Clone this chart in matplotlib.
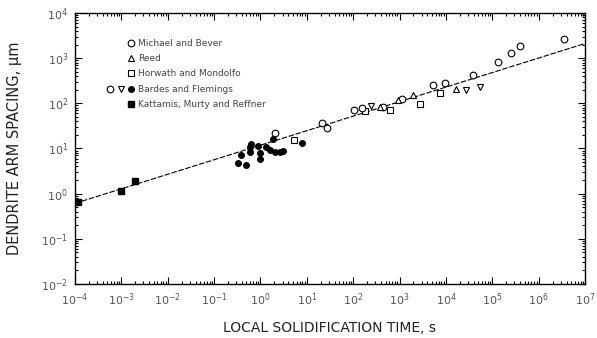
import matplotlib
matplotlib.use("Agg")
import matplotlib.pyplot as plt
from matplotlib.ticker import LogLocator, NullFormatter
from matplotlib.lines import Line2D
from matplotlib.legend_handler import HandlerTuple

# datos (tiempo local de solidificacion en s, espaciado en um)
michael_t = [3.6e6, 3.9e5, 2.58e5, 1.33e5, 3.83e4, 9.4e3, 5.2e3, 1.12e3, 434]
michael_lam = [2600, 1840, 1270, 828, 420, 276, 253, 122, 82]

reed_t = [1.68e4, 1.92e3, 915, 374]
reed_lam = [203, 151, 117, 81]

horwath_t = [7350, 2720, 615, 178, 5.4]
horwath_lam = [166, 99, 71, 68, 15.7]

bardes_open_t = [2.04, 20.8, 26.6, 102, 153]
bardes_open_lam = [22.5, 35.9, 27.9, 71, 78]

bardes_tri_t = [5.35e4, 2.77e4, 248]
bardes_tri_lam = [232, 196, 87]

bardes_fill_t = [0.32, 0.48, 0.39, 0.59, 0.59, 0.64, 0.89, 1.0, 1.0, 1.35, 1.58, 2.04, 2.6, 3.0, 1.82, 7.7]
bardes_fill_lam = [4.7, 4.3, 7.1, 8.5, 10.9, 12.5, 11.3, 7.8, 6.0, 10.9, 9.2, 8.5, 8.5, 8.9, 15.9, 13]

kattamis_t = [1.15e-4, 1.0e-3, 2.0e-3]
kattamis_lam = [0.65, 1.14, 1.9]

fit_t = [1e-4, 1e7]
fit_lam = [0.61, 2110]

fig = plt.figure(figsize=(5.97, 3.38), dpi=100)
ax = fig.add_axes([0.1256, 0.1598, 0.8543, 0.8018])

ax.plot(fit_t, fit_lam, color="black", lw=0.8, ls=(0, (5, 1.5)))

ms = 4.8
ax.plot(michael_t, michael_lam, "o", mfc="white", mec="black", ms=ms, mew=0.8)
ax.plot(reed_t, reed_lam, "^", mfc="white", mec="black", ms=ms, mew=0.8)
ax.plot(horwath_t, horwath_lam, "s", mfc="white", mec="black", ms=ms, mew=0.8)
ax.plot(bardes_open_t, bardes_open_lam, "o", mfc="white", mec="black", ms=ms, mew=0.8)
ax.plot(bardes_tri_t, bardes_tri_lam, "v", mfc="white", mec="black", ms=ms, mew=0.8)
ax.plot(bardes_fill_t, bardes_fill_lam, "o", color="black", ms=4)
ax.plot(kattamis_t, kattamis_lam, "s", color="black", ms=5)

ax.set_xscale("log")
ax.set_yscale("log")
ax.set_xlim(1e-4, 1e7)
ax.set_ylim(1e-2, 1e4)

for eje in (ax.xaxis, ax.yaxis):
    eje.set_major_locator(LogLocator(base=10, numticks=20))
    eje.set_minor_locator(LogLocator(base=10, subs=range(2, 10), numticks=20))
    eje.set_minor_formatter(NullFormatter())

ax.tick_params(which="both", direction="in", top=True, right=True, width=0.8,
               labelsize=8, labelcolor="#555555")
ax.tick_params(which="major", length=5, pad=5)
ax.tick_params(which="minor", length=2.5)
for s in ax.spines.values():
    s.set_linewidth(1.0)

ax.set_xlabel("LOCAL SOLIDIFICATION TIME, s", fontsize=10, labelpad=10, color="#222222")
ax.set_ylabel("DENDRITE ARM SPACING, \u03bcm", fontsize=10.5, labelpad=14, color="#222222")

# manejadores de la leyenda: los simbolos sueltos van en la columna derecha
mk = dict(ls="none", mec="black", ms=ms, mew=0.8)
vacio = Line2D([], [], ls="none", marker="")
h_michael = (vacio, vacio, Line2D([], [], marker="o", mfc="white", **mk))
h_reed = (vacio, vacio, Line2D([], [], marker="^", mfc="white", **mk))
h_horwath = (vacio, vacio, Line2D([], [], marker="s", mfc="white", **mk))
h_bardes = (Line2D([], [], marker="o", mfc="white", **mk),
            Line2D([], [], marker="v", mfc="white", **mk),
            Line2D([], [], marker="o", mfc="black", ls="none", mec="black", ms=4))
h_katt = (vacio, vacio, Line2D([], [], marker="s", mfc="black", ls="none", mec="black", ms=5))

ax.legend([h_michael, h_reed, h_horwath, h_bardes, h_katt],
          ["Michael and Bever", "Reed", "Horwath and Mondolfo",
           "Bardes and Flemings", "Kattamis, Murty and Reffner"],
          handler_map={tuple: HandlerTuple(ndivide=None, pad=0.2)},
          loc="upper left", bbox_to_anchor=(0.045, 0.935), frameon=False,
          fontsize=6.5, handlelength=3.2, handletextpad=0.3, labelspacing=0.7,
          labelcolor="#444444")

fig.savefig("out.png", dpi=100)
